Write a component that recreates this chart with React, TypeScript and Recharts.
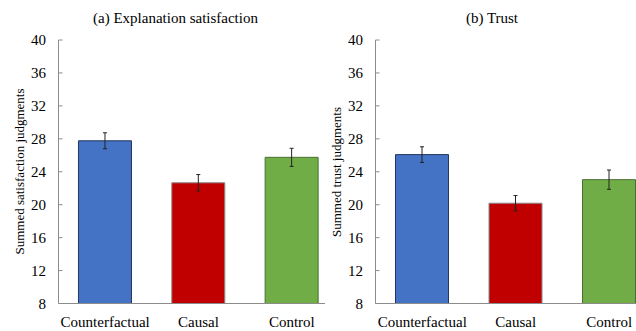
import React from "react";
import { BarChart, Bar, XAxis, YAxis, ErrorBar, Cell } from "recharts";

// Conditions shown on both panels
const categories = ["Counterfactual", "Causal", "Control"];

// (a) Explanation satisfaction: means and standard errors
const satisfactionMeans = [27.76, 22.66, 25.75];
const satisfactionErrors = [0.97, 1.0, 1.1];

// (b) Trust: means and standard errors
const trustMeans = [26.08, 20.18, 23.04];
const trustErrors = [0.95, 0.93, 1.17];

const yTicks = [8, 12, 16, 20, 24, 28, 32, 36, 40];

const barFills = ["#4472C4", "#C00000", "#70AD47"];
const barEdges = ["#22385F", "#8A8A8A", "#4A6F33"];

const FONT = "Liberation Serif, DejaVu Serif, serif";
const AXIS_GRAY = "#8C8C8C";

type Row = { name: string; mean: number; err: number };

const buildRows = (means: number[], errors: number[]): Row[] =>
  categories.map((name, i) => ({ name, mean: means[i], err: errors[i] }));

const satisfactionRows = buildRows(satisfactionMeans, satisfactionErrors);
const trustRows = buildRows(trustMeans, trustErrors);

type PanelProps = {
  rows: Row[];
  width: number;
  yAxisWidth: number;
  rightPadding: number;
};

function Panel({ rows, width, yAxisWidth, rightPadding }: PanelProps) {
  return (
    <BarChart
      width={width}
      height={331}
      data={rows}
      margin={{ top: 40, right: 0, bottom: 0, left: 0 }}
      barCategoryGap="21.4%"
      style={{ fontFamily: FONT }}
    >
      <XAxis
        dataKey="name"
        interval={0}
        height={27.5}
        tickLine={false}
        tickMargin={6.5}
        padding={{ left: 0, right: rightPadding }}
        axisLine={{ stroke: AXIS_GRAY, strokeWidth: 1 }}
        tick={{ fill: "#000", fontSize: 15, fontFamily: FONT }}
      />
      <YAxis
        type="number"
        domain={[8, 40]}
        ticks={yTicks}
        interval={0}
        width={yAxisWidth}
        tickSize={-4}
        tickMargin={16.5}
        axisLine={{ stroke: AXIS_GRAY, strokeWidth: 1 }}
        tickLine={{ stroke: AXIS_GRAY, strokeWidth: 1 }}
        tick={{ fill: "#000", fontSize: 15, fontFamily: FONT }}
      />
      <Bar dataKey="mean" isAnimationActive={false} strokeWidth={1}>
        {rows.map((r, i) => (
          <Cell key={r.name} fill={barFills[i]} stroke={barEdges[i]} />
        ))}
        <ErrorBar
          dataKey="err"
          direction="y"
          width={2}
          stroke="#222"
          strokeWidth={1}
        />
      </Bar>
    </BarChart>
  );
}

export default function App() {
  return (
    <div
      style={{
        position: "fixed",
        left: 0,
        top: 0,
        width: 636,
        height: 331,
        overflow: "hidden",
        background: "#fff",
        fontFamily: FONT,
      }}
    >
      <div style={{ position: "absolute", left: 0, top: 0 }}>
        <Panel rows={satisfactionRows} width={325} yAxisWidth={58.5} rightPadding={-13.5} />
      </div>
      <div style={{ position: "absolute", left: 316, top: 0 }}>
        <Panel rows={trustRows} width={340} yAxisWidth={59.5} rightPadding={0} />
      </div>
      <svg
        width={636}
        height={331}
        style={{ position: "absolute", left: 0, top: 0, pointerEvents: "none" }}
      >
        <g style={{ fontFamily: FONT }} fill="#000">
          <text x={175.5} y={22.5} fontSize={15} textAnchor="middle">
            (a) Explanation satisfaction
          </text>
          <text x={492} y={22.5} fontSize={15} textAnchor="middle">
            (b) Trust
          </text>
          <text
            x={24}
            y={171.5}
            fontSize={13}
            textAnchor="middle"
            transform="rotate(-90 24 171.5)"
          >
            Summed satisfaction judgments
          </text>
          <text
            x={340.5}
            y={172}
            fontSize={13}
            textAnchor="middle"
            transform="rotate(-90 340.5 172)"
          >
            Summed trust judgments
          </text>
        </g>
      </svg>
    </div>
  );
}
